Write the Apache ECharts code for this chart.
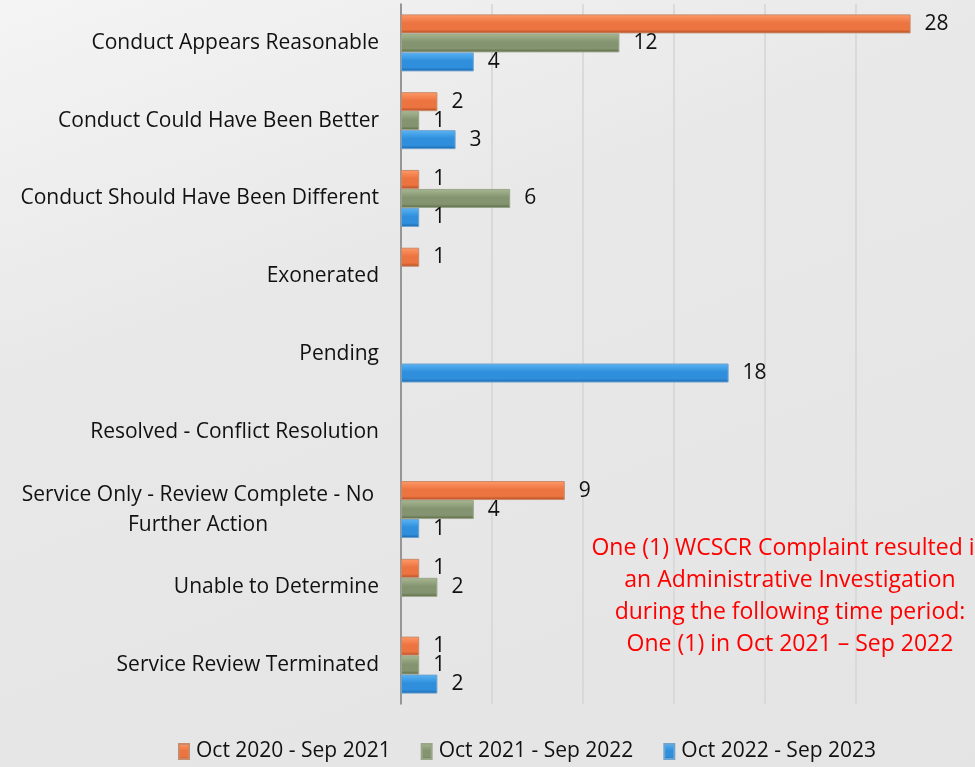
<!DOCTYPE html>
<html>
<head>
<meta charset="utf-8">
<script src="https://cdn.jsdelivr.net/npm/echarts@6/dist/echarts.min.js"></script>
<style>
	html, body { margin: 0; padding: 0; }
	body { background: linear-gradient(160deg, #f4f4f4 0%, #e8e8e8 35%, #e4e4e4 100%); }
</style>
</head>
<body>
<div style="width: 975px;height: 767px" id="chart"></div>
<script type="text/javascript">
	var categories = ['Conduct Appears Reasonable', 'Conduct Could Have Been Better', 'Conduct Should Have Been Different',
		'Exonerated', 'Pending', 'Resolved - Conflict Resolution', 'Service Only - Review Complete - No\nFurther Action',
		'Unable to Determine', 'Service Review Terminated'];
	var seriesNames = ['Oct 2020 - Sep 2021', 'Oct 2021 - Sep 2022', 'Oct 2022 - Sep 2023'];
	var fy2021 = [28, 2, 1, 1, 0, 0, 9, 1, 1];
	var fy2022 = [12, 1, 6, 0, 0, 0, 4, 2, 1];
	var fy2023 = [4, 3, 1, 0, 18, 0, 1, 0, 2];
	var xTicks = [0, 5, 10, 15, 20, 25, 30];
	var noteLines = ['One (1) WCSCR Complaint resulted in', 'an Administrative Investigation',
		'during the following time period:', 'One (1) in Oct 2021 \u2013 Sep 2022'];

	var font = '"Open Sans", "Noto Sans", sans-serif';

	function grad(light, mid, dark){
		return new echarts.graphic.LinearGradient(0, 0, 0, 1, [
			{offset: 0, color: light}, {offset: 0.45, color: mid}, {offset: 0.8, color: mid}, {offset: 1, color: dark}
		]);
	}
	var styles = [
		{fill: grad('#ff9a68', '#ec7440', '#ad4a20'), border: '#c98a6a'},
		{fill: grad('#a8b892', '#849470', '#57663f'), border: '#9aa58a'},
		{fill: grad('#5ab4f4', '#2f8fdc', '#1a64a8'), border: '#6fa3cf'}
	];

	function makeSeries(name, values, idx){
		return {
			name: name,
			type: 'bar',
			barWidth: 19,
			barGap: '0%',
			data: values.map(function(v){ return v === 0 ? null : v; }),
			itemStyle: { color: styles[idx].fill, borderColor: styles[idx].border, borderWidth: 1 },
			label: {
				show: true, position: 'right', distance: 14,
				color: '#111', fontSize: 21, fontFamily: font
			}
		};
	}

	var myChart = echarts.init(document.getElementById('chart'));
	var option = {
		animation: false,
		textStyle: { fontFamily: font },
		grid: { left: 401, right: 28, top: 4, height: 700 },
		xAxis: {
			type: 'value', min: 0, max: xTicks[xTicks.length - 1], interval: 5,
			axisLine: { show: false }, axisTick: { show: false }, axisLabel: { show: false },
			splitLine: { show: true, showMaxLine: false, lineStyle: { color: '#d4d4d4', width: 1.5 } }
		},
		yAxis: {
			type: 'category', inverse: true, data: categories,
			axisLine: { show: true, lineStyle: { color: '#7f7f7f', width: 1.5 } },
			axisTick: { show: false },
			axisLabel: {
				margin: 22, color: '#111', fontSize: 21, fontFamily: font,
				formatter: function(v){
					if (v.indexOf('\n') < 0) return v;
					return v.split('\n').map(function(s){ return '{c|' + s + '}'; }).join('\n');
				},
				rich: { c: { width: 362, align: 'center', fontSize: 21, color: '#111', fontFamily: font, lineHeight: 30 } }
			}
		},
		legend: {
			bottom: 0, left: 173, itemWidth: 10, itemHeight: 15, itemGap: 30,
			icon: 'rect',
			textStyle: { color: '#111', fontSize: 21, fontFamily: font, padding: [0, 0, 0, 2] },
			data: seriesNames
		},
		graphic: [{
			type: 'text', left: 790 - 200, top: 532, z: 100,
			style: {
				text: noteLines.join('\n'), fill: '#ff0000', font: '23px ' + font,
				textAlign: 'center', lineHeight: 32, width: 400
			}
		}],
		series: [
			makeSeries(seriesNames[0], fy2021, 0),
			makeSeries(seriesNames[1], fy2022, 1),
			makeSeries(seriesNames[2], fy2023, 2)
		]
	};
	myChart.setOption(option);
</script>
</body>
</html>
